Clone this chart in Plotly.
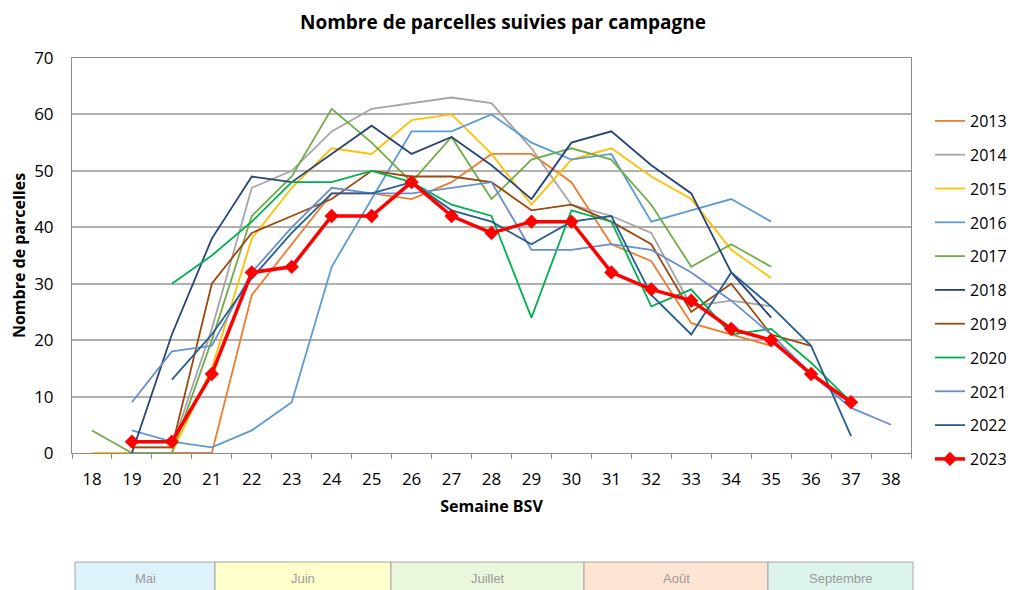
import plotly.graph_objects as go

# semaines BSV (axe des catégories)
weeks = [str(w) for w in range(18, 39)]

# nombre de parcelles par campagne, aligné sur weeks (None = pas de suivi)
y2013 = [None, None, 0, 0, 28, 37, 46, 46, 45, 48, 53, 53, 48, 37, 34, 23, 21, 19, None, None, None]
y2014 = [None, 1, 1, 22, 47, 50, 57, 61, 62, 63, 62, 54, 44, 42, 39, 26, 27, 26, None, None, None]
y2015 = [0, 0, 0, 15, 38, 47, 54, 53, 59, 60, 53, 44, 52, 54, 49, 45, 36, 31, None, None, None]
y2016 = [None, 4, 2, 1, 4, 9, 33, 45, 57, 57, 60, 55, 52, 53, 41, 43, 45, 41, None, None, None]
y2017 = [4, 0, 0, 20, 42, 49, 61, 55, 48, 56, 45, 52, 54, 52, 44, 33, 37, 33, None, None, None]
y2018 = [None, 0, 21, 38, 49, 48, 53, 58, 53, 56, 51, 45, 55, 57, 51, 46, 32, 24, None, None, None]
y2019 = [None, 1, 1, 30, 39, 42, 45, 50, 49, 49, 48, 43, 44, 41, 37, 25, 30, 21, 19, None, None]
y2020 = [None, None, 30, 35, 41, 48, 48, 50, 48, 44, 42, 24, 43, 41, 26, 29, 21, 22, 16, 9, None]
y2021 = [None, 9, 18, 19, 32, 40, 47, 46, 46, 47, 48, 36, 36, 37, 36, 32, 27, 21, 14, 8, 5]
y2022 = [None, None, 13, 21, 31, 39, 46, 46, 48, 43, 41, 37, 41, 42, 28, 21, 32, 26, 19, 3, None]
y2023 = [None, 2, 2, 14, 32, 33, 42, 42, 48, 42, 39, 41, 41, 32, 29, 27, 22, 20, 14, 9, None]

years = ["2013", "2014", "2015", "2016", "2017", "2018", "2019", "2020", "2021", "2022"]
series = [y2013, y2014, y2015, y2016, y2017, y2018, y2019, y2020, y2021, y2022]
colors = ["#ED7D31", "#A5A5A5", "#FFC000", "#5B9BD5", "#70AD47",
          "#264478", "#9E480E", "#00B050", "#698ED0", "#255E91"]

# bandeau des mois sous le graphique
months = ["Mai", "Juin", "Juillet", "Août", "Septembre"]
month_colors = ["#DDF2FB", "#FFFFCC", "#EBF7DD", "#FDE4D3", "#DDF3EE"]
month_edges_px = [75, 215, 391, 584, 768, 913]

# la page html ajoute une marge de 8px autour du graphique
OFF = 8
W, H = 1040, 590
L, R, T, B = 72, 911, 58, 453   # zone de tracé, en pixels écran

fig = go.Figure()

for name, vals, col in zip(years, series, colors):
    fig.add_trace(go.Scatter(
        x=weeks, y=vals, name=name, mode="lines",
        line=dict(color=col, width=1.8),
        legendgroup=name,
    ))

fig.add_trace(go.Scatter(
    x=weeks, y=y2023, name="2023", mode="lines+markers",
    line=dict(color="#FF0000", width=3.5),
    marker=dict(symbol="diamond", size=11, color="#FF0000"),
    legendgroup="2023",
))


def px_x(px):
    return (px - L) / (R - L)


def px_y(py):
    return (B - py) / (B - T)


for i, m in enumerate(months):
    x0, x1 = px_x(month_edges_px[i]), px_x(month_edges_px[i + 1])
    fig.add_shape(type="rect", xref="paper", yref="paper",
                  x0=x0, x1=x1, y0=px_y(562), y1=px_y(600),
                  fillcolor=month_colors[i], line=dict(color="#A6A6A6", width=1),
                  layer="above")
    fig.add_annotation(xref="paper", yref="paper", x=(x0 + x1) / 2, y=px_y(578),
                       xanchor="center", yanchor="middle",
                       text=m, showarrow=False,
                       font=dict(family="Liberation Sans Narrow, Liberation Sans", size=13, color="#9A9A9A"))

font_b = "Open Sans"

fig.update_layout(
    width=W, height=H,
    margin=dict(l=L - OFF, r=W - (R - OFF), t=T - OFF, b=H - (B - OFF)),
    plot_bgcolor="white", paper_bgcolor="white",
    title=dict(text="<b>Nombre de parcelles suivies par campagne</b>",
               x=px_x(503), xanchor="center", xref="paper",
               y=1 - (22 - OFF) / H, yanchor="middle",
               font=dict(family=font_b, size=19, color="#000000")),
    legend=dict(x=px_x(930), xanchor="left", y=px_y(104), yanchor="top",
                font=dict(family=font_b, size=16, color="#000000"),
                tracegroupgap=10, itemwidth=30),
    showlegend=True,
)

fig.update_xaxes(
    type="category", categoryorder="array", categoryarray=weeks,
    range=[-0.5, len(weeks) - 0.5],
    tickson="boundaries", ticks="outside", ticklen=5, tickcolor="#8C8C8C",
    showgrid=False, showline=True, linecolor="#8C8C8C", linewidth=1, mirror=True,
    tickfont=dict(family=font_b, size=17, color="#000000"), ticklabelstandoff=11,
    title=dict(text="<b>Semaine BSV</b>", font=dict(family=font_b, size=16, color="#000000"), standoff=11),
    automargin=False,
)
fig.update_yaxes(
    range=[0, 70], dtick=10, showgrid=True, gridcolor="#B0B0B0", gridwidth=1.5,
    showline=True, linecolor="#8C8C8C", linewidth=1, mirror=True,
    ticks="", ticklabelstandoff=14,
    tickfont=dict(family=font_b, size=17, color="#000000"),
    title=dict(text="<b>Nombre de parcelles</b>", font=dict(family=font_b, size=16, color="#000000"), standoff=6),
    zeroline=False, automargin=False,
)

fig.write_html("out.html")
